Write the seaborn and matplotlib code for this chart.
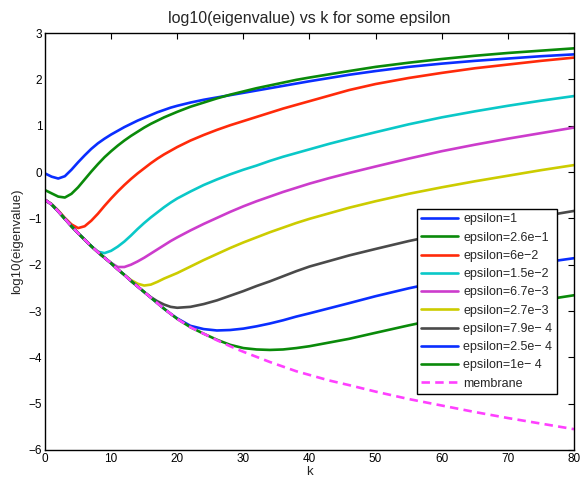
import numpy as np
import pandas as pd
import matplotlib
matplotlib.use("Agg")
import matplotlib.pyplot as plt
import seaborn as sns

# ---- data ----
k = [0, 1, 2, 3, 4, 5, 6, 7, 8, 9, 10, 11, 12, 13, 14, 15, 16, 17, 18, 19, 20,
     22, 24, 26, 28, 30, 32, 34, 36, 38, 40, 43, 46, 50, 55, 60, 65, 70, 75, 80]

membrane = [-0.60, -0.70, -0.85, -1.01, -1.17, -1.32, -1.46, -1.60, -1.73, -1.85, -1.97,
            -2.10, -2.22, -2.35, -2.47, -2.59, -2.71, -2.83, -2.95, -3.06, -3.17,
            -3.35, -3.49, -3.63, -3.76, -3.88, -3.99, -4.10, -4.20, -4.30, -4.38,
            -4.50, -4.60, -4.74, -4.90, -5.04, -5.18, -5.31, -5.43, -5.55]
eps_1 = [-0.03, -0.10, -0.14, -0.09, 0.05, 0.21, 0.36, 0.50, 0.62, 0.72, 0.81,
         0.89, 0.97, 1.04, 1.11, 1.17, 1.23, 1.29, 1.34, 1.39, 1.43,
         1.50, 1.56, 1.61, 1.66, 1.71, 1.76, 1.81, 1.86, 1.91, 1.96,
         2.03, 2.10, 2.18, 2.27, 2.34, 2.40, 2.45, 2.50, 2.54]
eps_2_6e_1 = [-0.39, -0.46, -0.53, -0.55, -0.47, -0.33, -0.16, 0.01, 0.17, 0.32, 0.45,
              0.57, 0.68, 0.78, 0.87, 0.96, 1.04, 1.11, 1.18, 1.24, 1.30,
              1.41, 1.50, 1.59, 1.67, 1.74, 1.81, 1.87, 1.93, 1.99, 2.04,
              2.11, 2.18, 2.27, 2.36, 2.44, 2.51, 2.57, 2.62, 2.67]
eps_6e_2 = [-0.60, -0.69, -0.83, -0.99, -1.13, -1.21, -1.17, -1.05, -0.90, -0.73, -0.57,
            -0.42, -0.28, -0.15, -0.03, 0.08, 0.19, 0.29, 0.38, 0.46, 0.54,
            0.68, 0.80, 0.91, 1.01, 1.10, 1.19, 1.28, 1.37, 1.45, 1.53,
            1.65, 1.77, 1.90, 2.03, 2.14, 2.24, 2.32, 2.40, 2.47]
eps_1_5e_2 = [-0.60, -0.70, -0.85, -1.01, -1.17, -1.32, -1.46, -1.60, -1.72, -1.75, -1.70,
              -1.61, -1.50, -1.37, -1.23, -1.10, -0.98, -0.87, -0.76, -0.66, -0.57,
              -0.42, -0.28, -0.16, -0.05, 0.05, 0.14, 0.24, 0.33, 0.41, 0.49,
              0.61, 0.72, 0.86, 1.03, 1.18, 1.31, 1.43, 1.54, 1.64]
eps_6_7e_3 = [-0.60, -0.70, -0.85, -1.01, -1.17, -1.32, -1.46, -1.60, -1.73, -1.85, -1.96,
              -2.05, -2.05, -2.00, -1.93, -1.85, -1.76, -1.67, -1.58, -1.49, -1.41,
              -1.26, -1.12, -0.99, -0.86, -0.74, -0.63, -0.53, -0.43, -0.34, -0.25,
              -0.13, -0.02, 0.12, 0.29, 0.45, 0.59, 0.72, 0.84, 0.96]
eps_2_7e_3 = [-0.60, -0.70, -0.85, -1.01, -1.17, -1.32, -1.46, -1.60, -1.73, -1.85, -1.97,
              -2.10, -2.22, -2.33, -2.41, -2.45, -2.43, -2.37, -2.30, -2.24, -2.18,
              -2.04, -1.90, -1.77, -1.64, -1.52, -1.41, -1.30, -1.20, -1.10, -1.01,
              -0.89, -0.77, -0.63, -0.47, -0.33, -0.20, -0.08, 0.04, 0.15]
eps_7_9e_4 = [-0.60, -0.70, -0.85, -1.01, -1.17, -1.32, -1.46, -1.60, -1.73, -1.85, -1.97,
              -2.10, -2.22, -2.35, -2.47, -2.59, -2.70, -2.79, -2.86, -2.91, -2.93,
              -2.91, -2.85, -2.77, -2.67, -2.57, -2.46, -2.36, -2.25, -2.14, -2.04,
              -1.92, -1.80, -1.66, -1.49, -1.34, -1.21, -1.08, -0.96, -0.84]
eps_2_5e_4 = [-0.60, -0.70, -0.85, -1.01, -1.17, -1.32, -1.46, -1.60, -1.73, -1.85, -1.97,
              -2.10, -2.22, -2.35, -2.47, -2.59, -2.71, -2.83, -2.95, -3.06, -3.16,
              -3.32, -3.39, -3.42, -3.41, -3.38, -3.33, -3.27, -3.20, -3.12, -3.05,
              -2.94, -2.83, -2.68, -2.51, -2.36, -2.21, -2.08, -1.96, -1.86]
eps_1e_4 = [-0.60, -0.70, -0.85, -1.01, -1.17, -1.32, -1.46, -1.60, -1.73, -1.85, -1.97,
            -2.10, -2.22, -2.35, -2.47, -2.59, -2.71, -2.83, -2.95, -3.06, -3.17,
            -3.35, -3.49, -3.62, -3.73, -3.80, -3.83, -3.84, -3.83, -3.80, -3.76,
            -3.68, -3.60, -3.47, -3.31, -3.16, -3.02, -2.89, -2.77, -2.66]

labels = ["epsilon=1", "epsilon=2.6e\u22121", "epsilon=6e\u22122", "epsilon=1.5e\u22122",
          "epsilon=6.7e\u22123", "epsilon=2.7e\u22123", "epsilon=7.9e\u2212 4",
          "epsilon=2.5e\u2212 4", "epsilon=1e\u2212 4", "membrane"]
series = [eps_1, eps_2_6e_1, eps_6e_2, eps_1_5e_2, eps_6_7e_3, eps_2_7e_3,
          eps_7_9e_4, eps_2_5e_4, eps_1e_4, membrane]
colors = ["#0a2eff", "#0a8a0a", "#ff2a0a", "#0ac8c8", "#cc3ccc", "#cccc00",
          "#4a4a4a", "#0a2eff", "#0a8a0a", "#ff40ff"]

xticks = [0, 10, 20, 30, 40, 50, 60, 70, 80]
yticks = [-6, -5, -4, -3, -2, -1, 0, 1, 2, 3]

# ---- plot ----
sns.set_style("white")
plt.rcParams["font.family"] = ["Liberation Sans", "DejaVu Sans"]

fig = plt.figure(figsize=(5.8, 4.82), dpi=100)
ax = fig.add_axes([0.0776, 0.0664, 0.912, 0.865])

for vals, lab, col in zip(series, labels, colors):
    sns.lineplot(x=k, y=vals, color=col, label=lab, ax=ax, linewidth=1.9)
    ax.lines[-1].set_solid_joinstyle("round")
    if lab == "membrane":
        ax.lines[-1].set_dashes([3.2, 2.0])

ax.set_xlim(0, 80)
ax.set_ylim(-6, 3)
ax.set_xticks(xticks)
ax.set_yticks(yticks)
ax.tick_params(direction="in", length=4, width=0.8, top=True, right=True,
               labelsize=8.5, colors="black", pad=2)
for s in ax.spines.values():
    s.set_visible(True)
    s.set_color("black")
    s.set_linewidth(1.0)

ax.set_title("log10(eigenvalue) vs k for some epsilon", fontsize=11.5, pad=7)
ax.set_xlabel("k", fontsize=9.5, labelpad=1)
ax.set_ylabel("log10(eigenvalue)", fontsize=9.5, labelpad=4)

leg = ax.legend(loc="upper left", bbox_to_anchor=(0.703, 0.578), fontsize=9,
                frameon=True, fancybox=False, edgecolor="black", framealpha=1,
                handlelength=2.95, handletextpad=0.4, labelspacing=0.5,
                borderpad=0.35, borderaxespad=0)
leg.get_frame().set_linewidth(1.0)

fig.savefig("out.png", dpi=100)
